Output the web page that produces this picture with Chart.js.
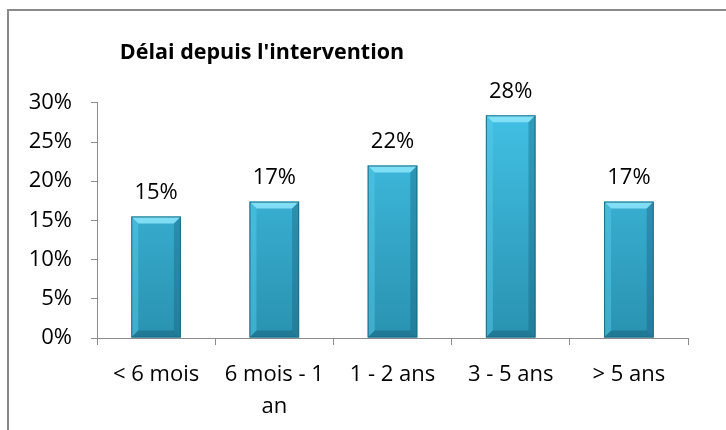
<!DOCTYPE html>
<html>
<head>
<meta charset="utf-8">
<script src="https://cdn.jsdelivr.net/npm/chart.js@4.4.1/dist/chart.umd.min.js"></script>
<style>
  html, body { margin: 0; padding: 0; background: #fff; }
  #wrap { position: relative; width: 726px; height: 430px; }
  #frame { position: absolute; left: 7px; top: 9px; width: 740px; height: 440px;
           border: 2px solid #8a8a8a; box-sizing: border-box; }
  canvas { position: absolute; left: 0; top: 0; }
</style>
</head>
<body>
<div id="wrap">
  <div id="frame"></div>
  <canvas id="chart" width="726" height="430"></canvas>
</div>
<script>
// valeurs
var theTitle = "Délai depuis l'intervention";
var theCategories = ["< 6 mois", ["6 mois - 1", "an"], "1 - 2 ans", "3 - 5 ans", "> 5 ans"];
var theValues = [15.5, 17.4, 22.0, 28.4, 17.4];
var theTicks = [0, 5, 10, 15, 20, 25, 30];

var theFont = "'Open Sans', Lato, sans-serif";

// le titre d'Excel n'est pas centré sur toute la largeur
var titleShift = {
  id: 'titleShift',
  beforeDraw: function(chart) {
    var tb = chart.titleBlock;
    if (tb) { tb.left = 0; tb.right = 524; }
  }
};

// relief des barres (biseau style Excel)
var bevelPlugin = {
  id: 'bevel',
  afterDatasetsDraw: function(chart) {
    var ctx = chart.ctx;
    var meta = chart.getDatasetMeta(0);
    meta.data.forEach(function(bar) {
      var l = bar.x - bar.width / 2, r = bar.x + bar.width / 2;
      var t = bar.y, b = bar.base, d = 7;
      ctx.save();
      ctx.fillStyle = 'rgba(140,230,250,0.85)';
      ctx.beginPath();
      ctx.moveTo(l, t); ctx.lineTo(r, t); ctx.lineTo(r - d, t + d); ctx.lineTo(l + d, t + d);
      ctx.closePath(); ctx.fill();
      ctx.fillStyle = 'rgba(90,205,235,0.45)';
      ctx.beginPath();
      ctx.moveTo(l, t); ctx.lineTo(l + d, t + d); ctx.lineTo(l + d, b - d); ctx.lineTo(l, b);
      ctx.closePath(); ctx.fill();
      ctx.fillStyle = 'rgba(20,90,115,0.35)';
      ctx.beginPath();
      ctx.moveTo(r, t); ctx.lineTo(r - d, t + d); ctx.lineTo(r - d, b - d); ctx.lineTo(r, b);
      ctx.closePath(); ctx.fill();
      ctx.fillStyle = 'rgba(15,75,95,0.35)';
      ctx.beginPath();
      ctx.moveTo(l, b); ctx.lineTo(l + d, b - d); ctx.lineTo(r - d, b - d); ctx.lineTo(r, b);
      ctx.closePath(); ctx.fill();
      ctx.strokeStyle = '#1d6f86';
      ctx.lineWidth = 1;
      ctx.strokeRect(l + 0.5, t + 0.5, bar.width - 1, b - t - 1);
      ctx.restore();
    });
  }
};

// étiquettes de valeur au-dessus des barres
var labelPlugin = {
  id: 'valueLabels',
  afterDatasetsDraw: function(chart) {
    var ctx = chart.ctx;
    var meta = chart.getDatasetMeta(0);
    ctx.save();
    ctx.font = '22px ' + theFont;
    ctx.fillStyle = '#000';
    ctx.textAlign = 'center';
    ctx.textBaseline = 'middle';
    meta.data.forEach(function(bar, i) {
      ctx.fillText(Math.floor(theValues[i]) + '%', bar.x, bar.y - 24);
    });
    ctx.restore();
  }
};

var ctx = document.getElementById('chart').getContext('2d');
var chart = new Chart(ctx, {
  type: 'bar',
  data: {
    labels: theCategories,
    datasets: [{
      data: theValues,
      backgroundColor: function(c) {
        var area = c.chart.chartArea;
        if (!area) return '#35b0d3';
        var g = c.chart.ctx.createLinearGradient(0, area.top, 0, area.bottom);
        g.addColorStop(0, '#42c2e6');
        g.addColorStop(1, '#2a92b1');
        return g;
      },
      borderWidth: 0,
      categoryPercentage: 1,
      barPercentage: 0.42
    }]
  },
  options: {
    responsive: false,
    animation: false,
    layout: { padding: { left: 0, right: 38, top: 0, bottom: 0 } },
    plugins: {
      legend: { display: false },
      tooltip: { enabled: false },
      title: {
        display: true,
        text: theTitle,
        color: '#000',
        font: { family: theFont, size: 21.5, weight: 'bold', lineHeight: 1.2 },
        padding: { top: 40, bottom: 37 }
      }
    },
    scales: {
      y: {
        min: 0,
        max: 30,
        afterFit: function(s) { s.width = 97; },
        afterBuildTicks: function(s) { s.ticks = theTicks.map(function(v) { return { value: v }; }); },
        ticks: {
          color: '#000',
          padding: 19,
          font: { family: theFont, size: 22 },
          callback: function(v) { return v + '%'; }
        },
        grid: { drawOnChartArea: false, drawTicks: true, tickLength: 6, color: '#8c8c8c' },
        border: { display: true, color: '#8c8c8c', width: 1 }
      },
      x: {
        afterFit: function(s) { s.height = 92; },
        ticks: {
          color: '#000',
          padding: 14,
          maxRotation: 0,
          font: { family: theFont, size: 22, lineHeight: 1.45 }
        },
        grid: { drawOnChartArea: false, drawTicks: true, tickLength: 7, color: '#8c8c8c', offset: true },
        border: { display: true, color: '#8c8c8c', width: 1 }
      }
    }
  },
  plugins: [titleShift, bevelPlugin, labelPlugin]
});
</script>
</body>
</html>
